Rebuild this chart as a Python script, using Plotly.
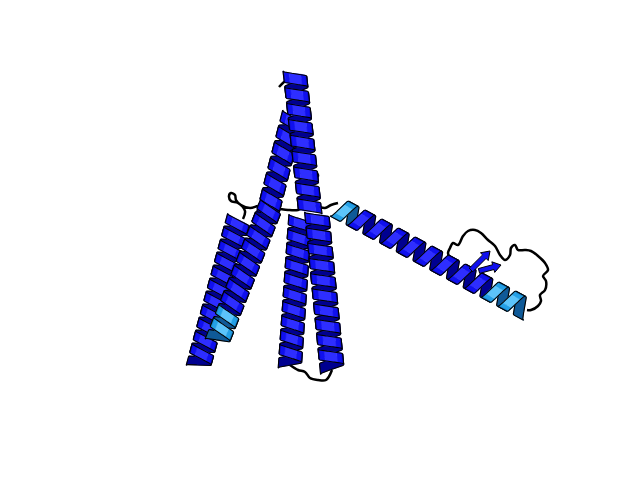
import numpy as np
import plotly.graph_objects as go

# colours of the cartoon (front shades dark -> bright, then inside)
BLUE_SHADES = ["#0808C8", "#1010EE", "#2E2EFF"]
BLUE_BACK = "#000090"
CYAN_SHADES = ["#1478C0", "#24A0E6", "#5CC4FA"]
CYAN_BACK = "#0F5A98"

# helix axes (pixel coordinates of the picture), drawn back to front
helix_names = ["G", "F", "A", "B", "C", "D", "E"]
helix_x0 = [284, 287, 230, 262, 292, 309, 332]
helix_y0 = [110, 67, 213, 200, 212, 208, 201]
helix_x1 = [260, 302, 191, 210, 282, 324, 516]
helix_y1 = [204, 202, 356, 331, 356, 360, 300]
helix_turns = [6, 8.5, 11, 10, 10, 10, 11]
helix_radius = [11, 11.5, 12, 12, 11.5, 12, 11]
# parts of each helix shown in light blue, as fractions along the axis
helix_cyan = [[], [], [], [(0.8, 1.0)], [], [], [(0.0, 0.1), (0.84, 1.0)]]

# loops (coil)
coil_top_x = [235, 237, 230, 223, 221, 223, 227, 228, 233, 242, 250, 257]
coil_top_y = [211, 203, 195, 193, 188, 185, 187, 192, 197, 200, 198, 197]
coil_mid_x = [265, 280, 290, 297, 307, 317, 323, 330]
coil_mid_y = [200, 202, 202, 199, 198, 200, 197, 195]
coil_cd_x = [282, 290, 297, 302, 310, 318, 324]
coil_cd_y = [357, 362, 364, 370, 372, 372, 362]
coil_right_x = [519, 523, 530, 533, 532, 537, 538, 535, 540, 537, 530, 523, 517, 510,
                507, 503, 502, 497, 492, 487, 480, 473, 467, 460, 455, 450, 445, 442, 440, 442]
coil_right_y = [302, 302, 298, 293, 287, 282, 273, 268, 262, 255, 248, 243, 242, 242,
                237, 240, 247, 252, 247, 238, 232, 225, 222, 223, 228, 237, 235, 240, 245, 250]
coil_tail_x = [271, 276, 282]
coil_tail_y = [79, 74, 70]
coil_b_x = [208, 203, 197]
coil_b_y = [334, 340, 347]
coil_tip_x = [304, 307, 310, 309]
coil_tip_y = [174, 170, 168, 165]
coils = [
    (coil_top_x, coil_top_y), (coil_mid_x, coil_mid_y), (coil_cd_x, coil_cd_y),
    (coil_right_x, coil_right_y), (coil_tail_x, coil_tail_y), (coil_b_x, coil_b_y),
    (coil_tip_x, coil_tip_y),
]

# beta strands (arrows)
strand_x0 = [463, 471]
strand_y0 = [262, 263]
strand_x1 = [482, 493]
strand_y1 = [243, 257]


def band(cx, cy, ux, uy, h):
    px = np.concatenate([cx - h * ux, (cx + h * ux)[::-1], [cx[0] - h * ux]])
    py = np.concatenate([cy - h * uy, (cy + h * uy)[::-1], [cy[0] - h * uy]])
    return list(px) + [None], list(py) + [None]


def ribbon(x0, y0, x1, y1, turns, r, cyan):
    dx, dy = x1 - x0, y1 - y0
    L = np.hypot(dx, dy)
    ux, uy = dx / L, dy / L
    vx, vy = -uy, ux
    h = min(5.4, 0.34 * L / turns)
    out = {}

    def add(key, xy):
        xs, ys = out.setdefault(key, ([], []))
        xs.extend(xy[0])
        ys.extend(xy[1])

    n_half = int(round(turns * 2))
    for k in range(n_half):
        side = "f" if k % 2 == 0 else "b"
        th = np.linspace(k * np.pi, (k + 1) * np.pi, 25)
        t = th / (2 * np.pi * turns)
        cx = x0 + t * dx + r * np.cos(th) * vx
        cy = y0 + t * dy + r * np.cos(th) * vy
        tm = t.mean()
        col = "c" if any(lo <= tm <= hi for lo, hi in cyan) else "b"
        if side == "b":
            add(("bfill", col, 0), band(cx, cy, ux, uy, h))
        else:
            # light falls on the middle of the band
            for lo, hi, s in [(0, 5, 0), (4, 9, 1), (8, 17, 2), (16, 21, 1), (20, 25, 0)]:
                add(("ffill", col, s), band(cx[lo:hi], cy[lo:hi], ux, uy, h))
        add((side + "edge", "k", 0), band(cx, cy, ux, uy, h))
    return out


def arrow(x0, y0, x1, y1, w=5, hw=11, hl=8):
    dx, dy = x1 - x0, y1 - y0
    L = np.hypot(dx, dy)
    ux, uy = dx / L, dy / L
    vx, vy = -uy, ux
    bx, by = x1 - hl * ux, y1 - hl * uy
    pts = [
        (x0 + w / 2 * vx, y0 + w / 2 * vy), (bx + w / 2 * vx, by + w / 2 * vy),
        (bx + hw / 2 * vx, by + hw / 2 * vy), (x1, y1),
        (bx - hw / 2 * vx, by - hw / 2 * vy), (bx - w / 2 * vx, by - w / 2 * vy),
        (x0 - w / 2 * vx, y0 - w / 2 * vy), (x0 + w / 2 * vx, y0 + w / 2 * vy),
    ]
    return [p[0] for p in pts], [p[1] for p in pts]


def poly(fig, xs, ys, fill, line, lw):
    fig.add_trace(go.Scatter(x=xs, y=ys, mode="lines", fill="toself" if fill else None,
                             fillcolor=fill, line=dict(color=line, width=lw), hoverinfo="skip"))


fig = go.Figure()

for cx, cy in coils:
    fig.add_trace(go.Scatter(x=cx, y=cy, mode="lines", line=dict(color="black", width=2.5, shape="spline"),
                             hoverinfo="skip"))

for i, name in enumerate(helix_names):
    out = ribbon(helix_x0[i], helix_y0[i], helix_x1[i], helix_y1[i],
                 helix_turns[i], helix_radius[i], helix_cyan[i])
    for layer in ["bfill", "bedge", "ffill", "fedge"]:
        for (lay, col, s), (xs, ys) in out.items():
            if lay != layer:
                continue
            if layer == "bfill":
                c = BLUE_BACK if col == "b" else CYAN_BACK
                poly(fig, xs, ys, c, c, 0.6)
            elif layer == "ffill":
                c = (BLUE_SHADES if col == "b" else CYAN_SHADES)[s]
                poly(fig, xs, ys, c, c, 0.6)
            else:
                poly(fig, xs, ys, None, "black", 1.1)

for i in range(len(strand_x0)):
    ax, ay = arrow(strand_x0[i], strand_y0[i], strand_x1[i], strand_y1[i])
    poly(fig, ax, ay, BLUE_SHADES[1], "black", 1)

fig.update_layout(
    width=640, height=480,
    margin=dict(l=0, r=0, t=0, b=0),
    paper_bgcolor="white", plot_bgcolor="white",
    showlegend=False,
    xaxis=dict(range=[0, 640], visible=False),
    yaxis=dict(range=[480, 0], visible=False),
)

fig.write_html("out.html")
